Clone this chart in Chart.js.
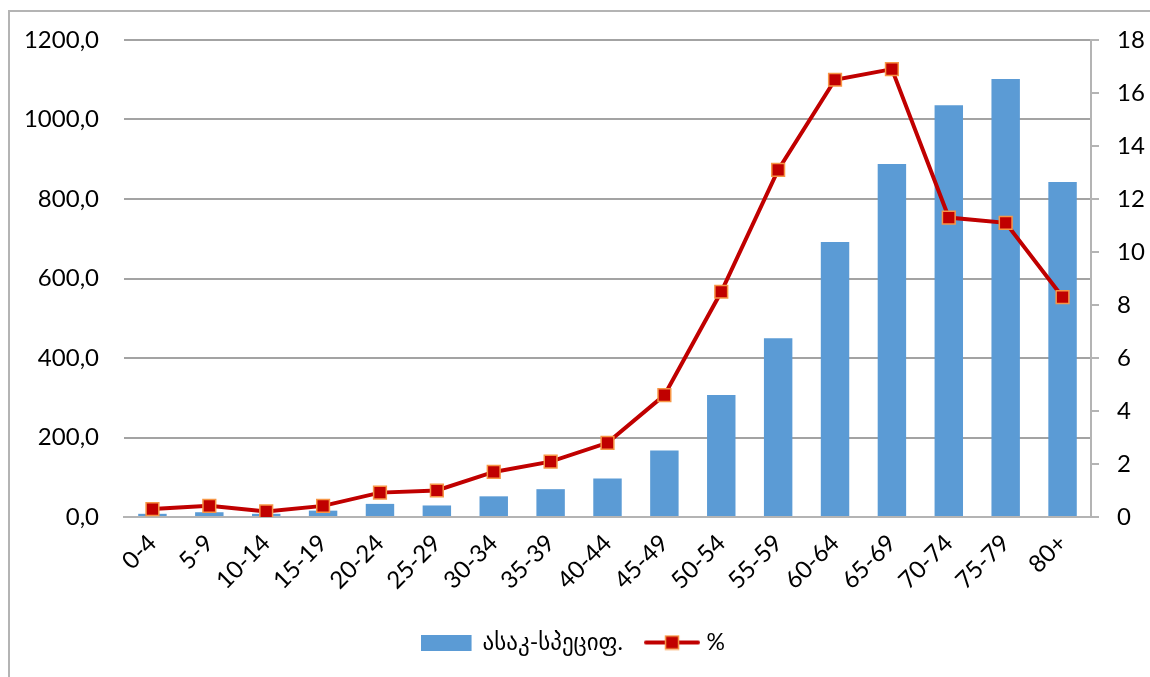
<!DOCTYPE html>
<html>
<head>
<meta charset="utf-8">
<script src="https://cdn.jsdelivr.net/npm/chart.js@4"></script>
<style>
  body { margin: 0; background: #fff; }
  #frame { position: absolute; left: 8px; top: 10px; width: 1200px; height: 700px; border: 2px solid #b4b4b4; pointer-events: none; }
  #chart { position: absolute; left: 0; top: 0; }
</style>
</head>
<body>
<canvas id="chart" width="1150" height="677"></canvas>
<div id="frame"></div>
<script>
const ageGroups = ["0-4", "5-9", "10-14", "15-19", "20-24", "25-29", "30-34", "35-39", "40-44",
    "45-49", "50-54", "55-59", "60-64", "65-69", "70-74", "75-79", "80+"];
const ageSpecific = [8, 12, 8, 16, 33, 29, 52, 70, 97, 167, 307, 450, 692, 888, 1036, 1102, 843];
const percent = [0.3, 0.42, 0.21, 0.42, 0.92, 1.0, 1.7, 2.09, 2.8, 4.6, 8.5, 13.1, 16.5, 16.9, 11.3, 11.1, 8.3];
const seriesNames = ["ასაკ-სპეციფ.", "%"];

const barColor = "#5B9BD5";
const lineColor = "#C00000";
const markerEdge = "#F79646";
const font = "Lato, 'DejaVu Sans', sans-serif";
const fontSize = 24;

// small legend swatches: a plain box for the bars, a line with a square marker for the line
function barSwatch() {
    const c = document.createElement("canvas");
    c.width = 55; c.height = 16;
    const g = c.getContext("2d");
    g.fillStyle = barColor;
    g.fillRect(0, 0, 51, 16);
    return c;
}
function lineSwatch() {
    const c = document.createElement("canvas");
    c.width = 56; c.height = 16;
    const g = c.getContext("2d");
    g.strokeStyle = lineColor;
    g.lineWidth = 4;
    g.lineCap = "round";
    g.beginPath();
    g.moveTo(2, 8);
    g.lineTo(54, 8);
    g.stroke();
    g.fillStyle = lineColor;
    g.fillRect(21.5, 1.5, 13, 13);
    g.strokeStyle = markerEdge;
    g.lineWidth = 1.5;
    g.strokeRect(21.5, 1.5, 13, 13);
    return c;
}
const swatches = [barSwatch(), lineSwatch()];

const ctx = document.getElementById("chart");
new Chart(ctx, {
    data: {
        labels: ageGroups,
        datasets: [
            {
                type: "bar",
                label: seriesNames[0],
                data: ageSpecific,
                yAxisID: "y",
                backgroundColor: barColor,
                categoryPercentage: 0.5,
                barPercentage: 1,
                order: 1
            },
            {
                type: "line",
                label: seriesNames[1],
                data: percent,
                yAxisID: "y1",
                borderColor: lineColor,
                borderWidth: 4,
                tension: 0,
                pointStyle: "rect",
                pointRadius: 9,
                pointBackgroundColor: lineColor,
                pointBorderColor: markerEdge,
                pointBorderWidth: 1.5,
                order: 0
            }
        ]
    },
    options: {
        responsive: false,
        animation: false,
        devicePixelRatio: 1,
        layout: { padding: { top: 40, left: 0, right: 0, bottom: 13 } },
        plugins: {
            tooltip: { enabled: false },
            legend: {
                position: "bottom",
                labels: {
                    usePointStyle: true,
                    pointStyleWidth: 46,
                    padding: 26,
                    color: "#000",
                    font: { family: font, size: 23 },
                    generateLabels(chart) {
                        const items = Chart.defaults.plugins.legend.labels.generateLabels(chart);
                        items.sort((a, b) => a.datasetIndex - b.datasetIndex);
                        items.forEach(it => { it.pointStyle = swatches[it.datasetIndex]; });
                        return items;
                    }
                }
            }
        },
        scales: {
            x: {
                offset: true,
                grid: { display: false },
                border: { color: "#b4b4b4", width: 2 },
                ticks: {
                    color: "#000",
                    font: { family: font, size: fontSize },
                    minRotation: 45,
                    maxRotation: 45,
                    padding: 4
                },
                afterFit(scale) { scale.height = 88; }
            },
            y: {
                position: "left",
                min: 0,
                max: 1200,
                border: { display: false },
                grid: { color: "#a3a3a3", lineWidth: 2, drawTicks: false },
                ticks: {
                    stepSize: 200,
                    color: "#000",
                    padding: 25,
                    font: { family: font, size: fontSize },
                    callback: v => v.toFixed(1).replace(".", ",")
                },
                afterFit(scale) { scale.width = 124; }
            },
            y1: {
                position: "right",
                min: 0,
                max: 18,
                border: { color: "#b4b4b4", width: 2 },
                grid: { drawOnChartArea: false, color: "#b4b4b4", lineWidth: 2, tickLength: 8 },
                ticks: {
                    stepSize: 2,
                    color: "#000",
                    padding: 18,
                    font: { family: font, size: fontSize }
                },
                afterFit(scale) { scale.width = 59; }
            }
        }
    }
});
</script>
</body>
</html>
